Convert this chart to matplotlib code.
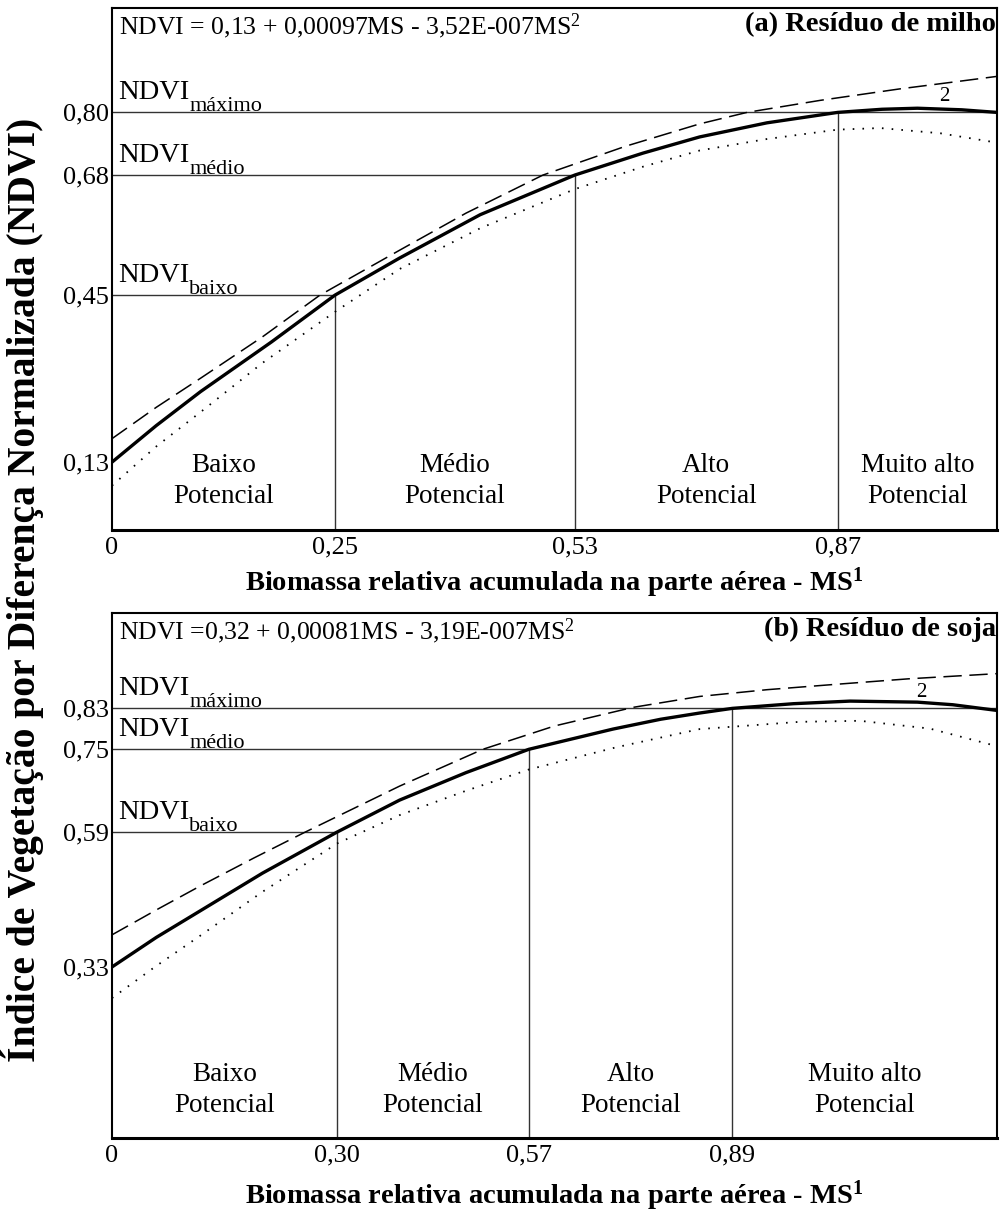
import matplotlib
matplotlib.use("Agg")
import matplotlib.pyplot as plt
from matplotlib.transforms import offset_copy

plt.rcParams['font.family'] = ['Liberation Serif', 'DejaVu Serif']
plt.rcParams['mathtext.fontset'] = 'custom'
plt.rcParams['mathtext.rm'] = 'Liberation Serif'
plt.rcParams['mathtext.it'] = 'Liberation Serif:italic'
plt.rcParams['mathtext.bf'] = 'Liberation Serif:bold'

# ---- (a) Residuo de milho ----
eq_a = "NDVI = 0,13 + 0,00097MS - 3,52E-007MS$^2$"
title_a = "(a) Resíduo de milho"
levels_a = [0.45, 0.68, 0.80]          # NDVI baixo, medio, maximo
intercept_a = 0.13
xcut_a = [0.252, 0.523, 0.820]          # where each level meets the curve
xlabels_a = ["0", "0,25", "0,53", "0,87"]

x_solid_a = [0, 0.05, 0.10, 0.18, 0.252, 0.325, 0.416, 0.523, 0.60, 0.664, 0.74, 0.820, 0.87, 0.91, 0.96, 1.0]
y_solid_a = [0.13, 0.20, 0.265, 0.36, 0.45, 0.521, 0.604, 0.68, 0.722, 0.753, 0.780, 0.800, 0.806, 0.808, 0.805, 0.800]
x_dash_a = [0, 0.05, 0.0994, 0.17, 0.235, 0.325, 0.40, 0.487, 0.58, 0.664, 0.7175, 0.80, 0.89, 0.95, 1.0]
y_dash_a = [0.175, 0.235, 0.29, 0.37, 0.45, 0.536, 0.607, 0.68, 0.735, 0.778, 0.80, 0.823, 0.845, 0.858, 0.869]
x_dot_a = [0, 0.05, 0.0994, 0.17, 0.252, 0.325, 0.416, 0.523, 0.60, 0.664, 0.74, 0.820, 0.868, 0.936, 1.0]
y_dot_a = [0.085, 0.16, 0.225, 0.32, 0.418, 0.50, 0.578, 0.653, 0.696, 0.727, 0.749, 0.767, 0.770, 0.760, 0.742]

# ---- (b) Residuo de soja ----
eq_b = "NDVI =0,32 + 0,00081MS - 3,19E-007MS$^2$"
title_b = "(b) Resíduo de soja"
levels_b = [0.59, 0.75, 0.83]
intercept_b = 0.33
xcut_b = [0.254, 0.471, 0.701]
xlabels_b = ["0", "0,30", "0,57", "0,89"]

x_solid_b = [0, 0.05, 0.0994, 0.17, 0.254, 0.325, 0.40, 0.471, 0.566, 0.62, 0.664, 0.701, 0.77, 0.834, 0.91, 0.95, 1.0]
y_solid_b = [0.33, 0.387, 0.438, 0.511, 0.59, 0.652, 0.705, 0.75, 0.789, 0.808, 0.820, 0.829, 0.838, 0.843, 0.841, 0.836, 0.825]
x_dash_b = [0, 0.05, 0.0994, 0.16, 0.218, 0.325, 0.419, 0.50, 0.589, 0.664, 0.74, 0.815, 0.90, 1.0]
y_dash_b = [0.392, 0.44, 0.486, 0.54, 0.59, 0.679, 0.75, 0.795, 0.831, 0.852, 0.865, 0.875, 0.886, 0.896]
x_dot_b = [0, 0.05, 0.0994, 0.17, 0.254, 0.325, 0.40, 0.471, 0.57, 0.664, 0.777, 0.845, 0.924, 1.0]
y_dot_b = [0.27, 0.332, 0.39, 0.475, 0.568, 0.623, 0.67, 0.711, 0.754, 0.789, 0.803, 0.805, 0.790, 0.756]

regions = ["Baixo\nPotencial", "Médio\nPotencial", "Alto\nPotencial", "Muito alto\nPotencial"]
sub_names = ["baixo", "médio", "máximo"]
xlabel = r"Biomassa relativa acumulada na parte aérea - MS$^\mathbf{1}$"
ylabel = "Índice de Vegetação por Diferença Normalizada (NDVI)"

W, H = 1001, 1211
fig = plt.figure(figsize=(W / 100, H / 100), dpi=100)
ax_a = fig.add_axes([112 / W, 1 - 530 / H, 885 / W, 522 / H])
ax_b = fig.add_axes([112 / W, 1 - 1138 / H, 885 / W, 525 / H])
renderer = fig.canvas.get_renderer()


def draw_panel(ax, ylim, eq, title, levels, intercept, xcut, xlabels,
               xs, ys, xd, yd, xo, yo, two_pos, reg_y):
    ax.set_xlim(0, 1)
    ax.set_ylim(*ylim)
    ymin = ylim[0]
    # reference lines
    for i, (lv, xc) in enumerate(zip(levels, xcut)):
        xend = 1 if i == len(levels) - 1 else xc
        ax.plot([0, xend], [lv, lv], color='#333333', lw=1.0)
        ax.plot([xc, xc], [ymin, lv], color='#333333', lw=1.0)
        # NDVI with a large subscript
        t = ax.text(0.007, lv, "NDVI", fontsize=20.5, ha='left', va='baseline',
                    transform=offset_copy(ax.transData, fig=fig, y=13, units='dots'))
        bb = t.get_window_extent(renderer)
        ax.annotate(sub_names[i], xy=(bb.x1, bb.y0), xycoords='figure pixels',
                    xytext=(0, -6), textcoords='offset pixels',
                    fontsize=16, ha='left', va='baseline')
    # curves
    ax.plot(xd, yd, color='black', lw=1.1, ls=(0, (12, 5)))
    ax.plot(xo, yo, color='black', lw=1.3, ls=(0, (0.9, 4.5)))
    ax.plot(xs, ys, color='black', lw=2.4, solid_capstyle='butt', solid_joinstyle='round')
    ax.text(two_pos[0], two_pos[1], "2", fontsize=15, ha='center', va='center')
    # region names
    bounds = [0] + list(xcut) + [1]
    for j, name in enumerate(regions):
        ax.text((bounds[j] + bounds[j + 1]) / 2, reg_y, name, fontsize=19.5,
                ha='center', va='center', linespacing=1.3)
    ax.text(0.008, 0.966, eq, transform=ax.transAxes, fontsize=18.5,
            ha='left', va='center')
    ax.text(0.999, 0.968, title, transform=ax.transAxes, fontsize=20.5,
            fontweight='bold', ha='right', va='center')
    ax.set_yticks([intercept] + list(levels))
    ax.set_yticklabels([("%.2f" % v).replace('.', ',') for v in [intercept] + list(levels)],
                       fontsize=19)
    ax.set_xticks([0] + list(xcut))
    ax.set_xticklabels(xlabels, fontsize=19)
    ax.tick_params(length=0, pad=2)
    ax.tick_params(axis='x', pad=5)
    for s in ax.spines.values():
        s.set_linewidth(1.5)
    ax.spines['bottom'].set_linewidth(2.2)


draw_panel(ax_a, (0, 1.0), eq_a, title_a, levels_a, intercept_a, xcut_a, xlabels_a,
           x_solid_a, y_solid_a, x_dash_a, y_dash_a, x_dot_a, y_dot_a,
           (0.941, 0.83), 0.094)
draw_panel(ax_b, (0, 1.013), eq_b, title_b, levels_b, intercept_b, xcut_b, xlabels_b,
           x_solid_b, y_solid_b, x_dash_b, y_dash_b, x_dot_b, y_dot_b,
           (0.915, 0.859), 0.093)

fig.text(554 / W, 1 - 583 / H, xlabel, fontsize=20.5, fontweight='bold',
         ha='center', va='center')
fig.text(554 / W, 1 - 1196 / H, xlabel, fontsize=20.5, fontweight='bold',
         ha='center', va='center')
fig.text(22 / W, 1 - 590 / H, ylabel, rotation=90, fontsize=28.5, fontweight='bold',
         ha='center', va='center')

fig.savefig("out.png", dpi=100)
